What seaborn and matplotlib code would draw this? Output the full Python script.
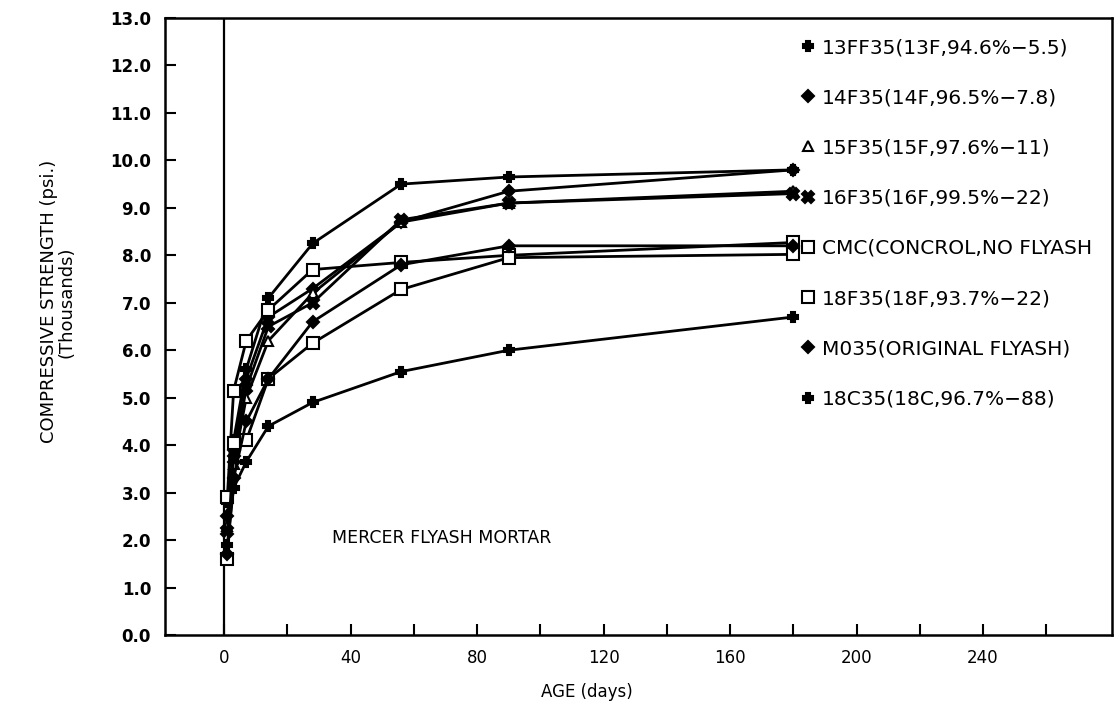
import matplotlib
matplotlib.use("Agg")
import matplotlib.pyplot as plt
import seaborn as sns
import pandas as pd
from matplotlib.lines import Line2D

# ---- data ----
age_days = [1, 3, 7, 14, 28, 56, 90, 180]

s_13FF35 = [2.8, 4.1, 5.6, 7.1, 8.25, 9.5, 9.65, 9.8]
s_14F35 = [2.5, 3.9, 5.4, 6.7, 7.3, 8.7, 9.35, 9.8]
s_15F35 = [2.3, 3.6, 5.0, 6.2, 7.2, 8.7, 9.1, 9.35]
s_16F35 = [2.2, 3.7, 5.2, 6.5, 7.0, 8.75, 9.1, 9.3]
s_CMC = [2.9, 5.15, 6.2, 6.85, 7.7, 7.85, 8.0, 8.27]
s_18F35 = [1.6, 4.05, 4.1, 5.4, 6.15, 7.28, 7.95, 8.02]
s_M035 = [1.7, 3.3, 4.5, 5.4, 6.6, 7.8, 8.2, 8.2]
s_18C35 = [1.9, 3.1, 3.65, 4.4, 4.9, 5.55, 6.0, 6.7]

series_names = [
    "13FF35(13F,94.6%\u22125.5)",
    "14F35(14F,96.5%\u22127.8)",
    "15F35(15F,97.6%\u221211)",
    "16F35(16F,99.5%\u221222)",
    "CMC(CONCROL,NO FLYASH",
    "18F35(18F,93.7%\u221222)",
    "M035(ORIGINAL FLYASH)",
    "18C35(18C,96.7%\u221288)",
]
series_values = [s_13FF35, s_14F35, s_15F35, s_16F35, s_CMC, s_18F35, s_M035, s_18C35]

x_ticks = [0, 20, 40, 60, 80, 100, 120, 140, 160, 180, 200, 220, 240, 260]
x_tick_labels = ["0", "", "40", "", "80", "", "120", "", "160", "", "200", "", "240", ""]
y_ticks = list(range(0, 14))
y_tick_labels = [f"{v:.1f}" for v in y_ticks]

# ---- styles ----
markers = ["P", "D", "^", "X", "s", "s", "D", "P"]
facecolors = ["black", "black", "white", "black", "white", "white", "black", "black"]
msizes = [7, 6, 7, 8, 8, 8, 6, 7]

rows = []
for name, vals in zip(series_names, series_values):
    for a, v in zip(age_days, vals):
        rows.append({"age": a, "strength": v, "series": name})
df = pd.DataFrame(rows)

sns.set_theme(style="white")
plt.rcParams["font.family"] = ["DejaVu Sans"]
plt.rcParams["text.color"] = "black"
plt.rcParams["axes.labelcolor"] = "black"
plt.rcParams["xtick.color"] = "black"
plt.rcParams["ytick.color"] = "black"

fig = plt.figure(figsize=(11.17, 7.06), dpi=100)
ax = fig.add_axes([165 / 1117, 1 - 635 / 706, (1112 - 165) / 1117, (635 - 18) / 706])

for i, name in enumerate(series_names):
    sub = df[df["series"] == name]
    sns.lineplot(data=sub, x="age", y="strength", ax=ax, color="black",
                 linewidth=2.0, marker=markers[i], markersize=msizes[i],
                 markerfacecolor=facecolors[i], markeredgecolor="black",
                 markeredgewidth=1.5, legend=False)

ax.axvline(0, color="black", linewidth=1.6, zorder=1)

ax.set_xlim(-18.7, 280.8)
ax.set_ylim(0, 13)
ax.set_xticks(x_ticks)
ax.set_xticklabels(x_tick_labels, fontsize=12, color="black")
ax.set_yticks(y_ticks)
ax.set_yticklabels(y_tick_labels, fontsize=12, fontweight="bold", color="black")
ax.tick_params(axis="both", direction="in", length=8, width=1.5, color="black",
               labelcolor="black", left=True, bottom=True, pad=10)
for sp in ax.spines.values():
    sp.set_color("black")
    sp.set_linewidth(1.8)

ax.set_xlabel("AGE (days)", fontsize=12, color="black")
ax.xaxis.set_label_coords((587 - 165) / (1112 - 165), -0.078)
ax.set_ylabel("COMPRESSIVE STRENGTH (psi.)\n(Thousands)", fontsize=13,
              linespacing=0.95, color="black")
ax.yaxis.set_label_coords(-0.095, 0.54)

ax.text(34, 2.05, "MERCER FLYASH MORTAR", fontsize=12.5, va="center", ha="left",
        color="black")

# legend
handles = [Line2D([], [], linestyle="none", marker=markers[i], markersize=msizes[i],
                  markerfacecolor=facecolors[i], markeredgecolor="black",
                  markeredgewidth=1.5, color="black")
           for i in range(len(series_names))]
leg = ax.legend(handles, series_names, loc="upper left",
                bbox_to_anchor=((792 - 165) / (1112 - 165), (635 - 30) / (635 - 18)),
                frameon=False, fontsize=14.5, handlelength=0.8, handletextpad=0.3,
                labelspacing=1.55, borderaxespad=0)
for t in leg.get_texts():
    t.set_color("black")

ax.grid(False)
fig.savefig("out.png", dpi=100)
